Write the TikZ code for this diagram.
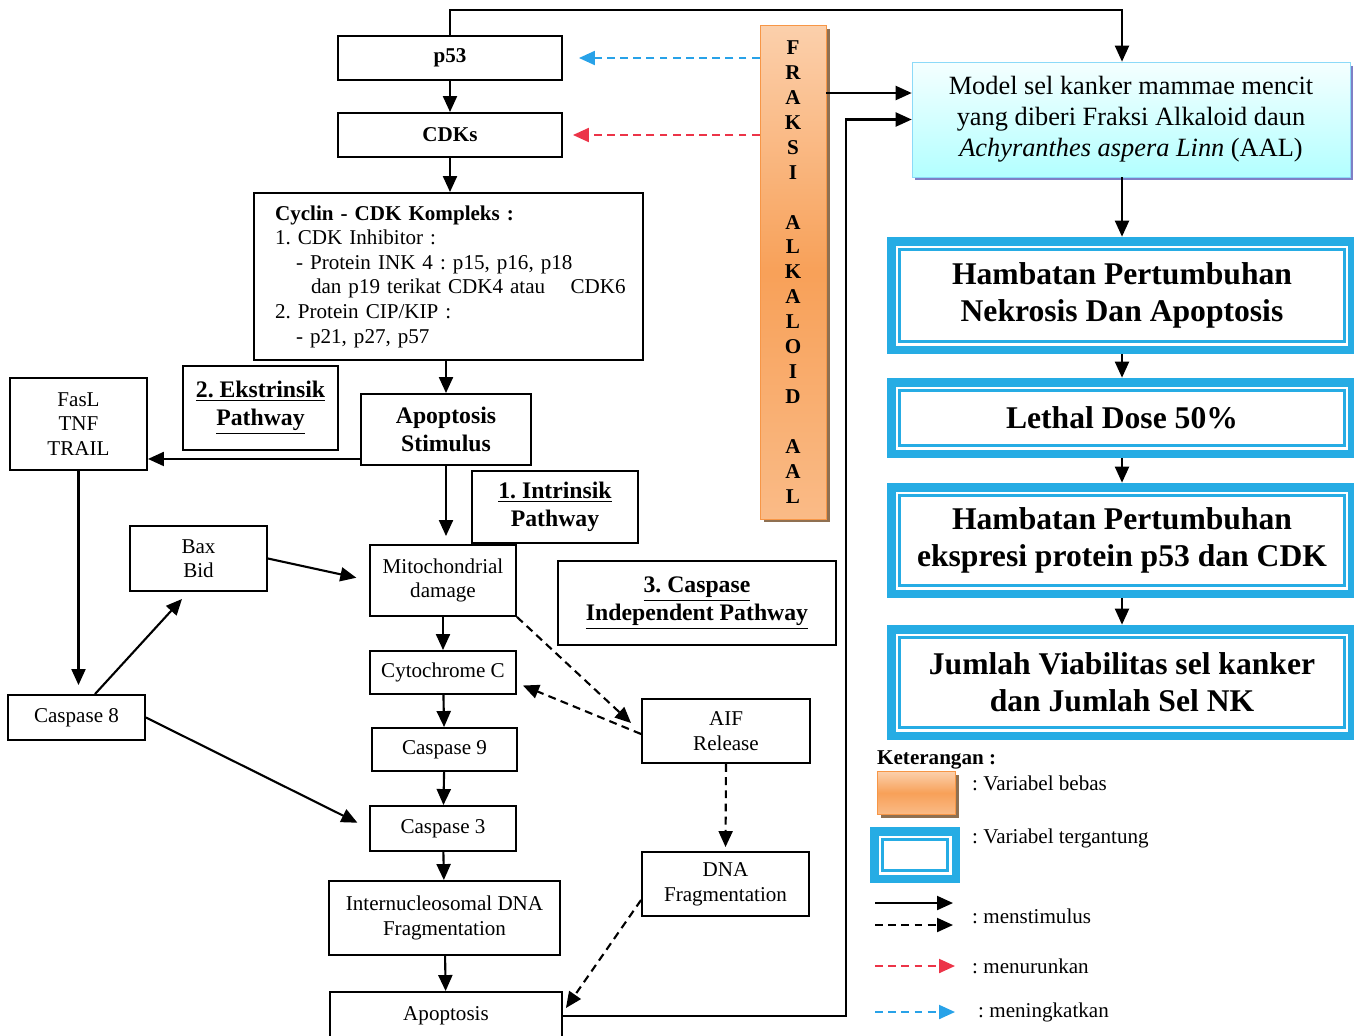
\documentclass[tikz,border=0pt]{standalone}
\usepackage{fontspec}
\setmainfont{Liberation Serif}
\usetikzlibrary{arrows.meta,shadows}

\definecolor{skyb}{RGB}{38,172,228}
\definecolor{orng}{RGB}{247,150,70}
\definecolor{redd}{RGB}{236,52,72}
\definecolor{blued}{RGB}{40,162,232}

\begin{document}
\frenchspacing
\begin{tikzpicture}[x=0.02cm, y=-0.02cm,
    box/.style={draw, line width=1.1pt, inner sep=0pt, align=center, font=\fontsize{12}{14}\selectfont},
    bbox/.style={box, font=\fontsize{12}{14}\selectfont\bfseries},
    lbl/.style={box, font=\fontsize{13.5}{16}\selectfont\bfseries},
    fbar/.style={draw=orng, fill=orng, top color=orng!45!white, bottom color=orng!65!white, middle color=orng!90!white,
        drop shadow={shadow xshift=0.07cm, shadow yshift=-0.07cm, fill=brown!60!black, opacity=0.8}},
    depbox/.style={fill=skyb, inner sep=0pt, align=center, font=\fontsize{18}{21}\selectfont\bfseries,
        path picture={
            \fill[white] ([shift={(0.17cm,-0.17cm)}]path picture bounding box.north west) rectangle ([shift={(-0.17cm,0.17cm)}]path picture bounding box.south east);
            \draw[skyb, line width=1.3pt] ([shift={(0.25cm,-0.25cm)}]path picture bounding box.north west) rectangle ([shift={(-0.25cm,0.25cm)}]path picture bounding box.south east);
        }},
    arr/.style={-{Triangle[length=0.32cm,width=0.28cm]}, line width=1.2pt},
    darr/.style={arr, dash pattern=on 4.5pt off 3pt}
]
\useasboundingbox (0,0) rectangle (1354,1035);

% left column
\node[bbox, minimum width=4.48cm, minimum height=0.88cm] (p53) at (450,58) {p53};
\node[bbox, minimum width=4.48cm, minimum height=0.88cm] (cdks) at (450,135) {CDKs};
\node[box, minimum width=7.78cm, minimum height=3.34cm, inner xsep=0.42cm, text width=6.94cm, align=left] (cyc) at (448.5,276.5)
    {\textbf{Cyclin - CDK Kompleks :}\\
     1. CDK Inhibitor :\\
     \hspace*{0.42cm}- Protein INK 4 : p15, p16, p18\\
     \hspace*{0.72cm}\mbox{dan p19 terikat CDK4 atau\hspace{1.2em}CDK6}\\
     2. Protein CIP/KIP :\\
     \hspace*{0.42cm}- p21, p27, p57};
\node[lbl, minimum width=3.4cm, minimum height=1.42cm] (stim) at (446,429.5) {Apoptosis\\Stimulus};
\node[lbl, minimum width=3.1cm, minimum height=1.68cm] (ekstr) at (260.5,408) {\underline{2. Ekstrinsik}\\\underline{Pathway}};
\node[box, minimum width=2.74cm, minimum height=1.84cm] (fasl) at (78.5,424) {FasL\\TNF\\TRAIL};
\node[lbl, minimum width=3.32cm, minimum height=1.44cm] (intr) at (555,507) {\underline{1. Intrinsik}\\Pathway};
\node[box, minimum width=2.74cm, minimum height=1.3cm] (bax) at (198.5,558.5) {Bax\\Bid};
\node[box, minimum width=2.92cm, minimum height=1.42cm] (mito) at (443,580.5) {Mitochondrial\\damage};
\node[lbl, minimum width=5.56cm, minimum height=1.68cm] (indep) at (697,603) {\underline{3. Caspase}\\\underline{Independent Pathway}};
\node[box, minimum width=2.92cm, minimum height=0.86cm] (cytc) at (443,672.5) {Cytochrome C};
\node[box, minimum width=2.74cm, minimum height=0.9cm] (c8) at (76.5,717.5) {Caspase 8};
\node[box, minimum width=3.36cm, minimum height=1.28cm] (aif) at (726,731) {AIF\\Release};
\node[box, minimum width=2.9cm, minimum height=0.86cm] (c9) at (444.5,749.5) {Caspase 9};
\node[box, minimum width=2.92cm, minimum height=0.9cm] (c3) at (443,828.5) {Caspase 3};
\node[box, minimum width=3.34cm, minimum height=1.28cm] (dnaf) at (725.5,884) {DNA\\Fragmentation};
\node[box, minimum width=4.62cm, minimum height=1.48cm] (inter) at (444.5,918) {Internucleosomal DNA\\Fragmentation};
\node[box, minimum width=4.64cm, minimum height=0.96cm] (apop) at (446,1016) {Apoptosis};

% fraksi bar
\node[fbar, minimum width=1.32cm, minimum height=9.88cm, align=center, font=\fontsize{12}{14.2}\selectfont\bfseries] (fraksi) at (793,272)
    {F\\R\\A\\K\\S\\I\\[14.2pt]A\\L\\K\\A\\L\\O\\I\\D\\[14.2pt]A\\A\\L};

% right column
\node[draw=cyan!45, fill=cyan!10, top color=cyan!4, bottom color=cyan!30, minimum width=8.76cm, minimum height=2.3cm,
    align=center, font=\fontsize{15}{17.6}\selectfont,
    drop shadow={shadow xshift=0.06cm, shadow yshift=-0.07cm, fill=blue!55!black}] (model) at (1131,119.5)
    {Model sel kanker mammae mencit\\yang diberi Fraksi Alkaloid daun\\\textit{Achyranthes aspera Linn} (AAL)};
\node[depbox, minimum width=9.4cm, minimum height=2.34cm] (hnk) at (1122,295.5) {Hambatan Pertumbuhan\\Nekrosis Dan Apoptosis};
\node[depbox, minimum width=9.4cm, minimum height=1.6cm] (ld) at (1122,418) {Lethal Dose 50\%};
\node[depbox, minimum width=9.4cm, minimum height=2.3cm] (hpe) at (1122,540.5) {Hambatan Pertumbuhan\\ekspresi protein p53 dan CDK};
\node[depbox, minimum width=9.4cm, minimum height=2.3cm] (jv) at (1122,682.5) {Jumlah Viabilitas sel kanker\\dan Jumlah Sel NK};

% legend
\node[anchor=west, font=\fontsize{12}{14}\selectfont\bfseries] (ket) at (871,760) {Keterangan :};
\node[fbar, minimum width=1.56cm, minimum height=0.86cm] (lgo) at (916,793) {};
\node[anchor=west, font=\fontsize{12}{14}\selectfont] (lgot) at (966,783) {: Variabel bebas};
\node[depbox, minimum width=1.8cm, minimum height=1.12cm] (lgb) at (915,855) {};
\node[anchor=west, font=\fontsize{12}{14}\selectfont] (lgbt) at (966,838) {: Variabel tergantung};
\node[anchor=west, font=\fontsize{12}{14}\selectfont] (lgs) at (966,916) {: menstimulus};
\node[anchor=west, font=\fontsize{12}{14}\selectfont] (lgr) at (966,966) {: menurunkan};
\node[anchor=west, font=\fontsize{12}{14}\selectfont] (lgi) at (972,1012) {: meningkatkan};
\coordinate (k1) at (875,903); \coordinate (k2) at (953,903);
\coordinate (k3) at (875,925); \coordinate (k4) at (953,925);
\coordinate (k5) at (875,966); \coordinate (k6) at (955,966);
\coordinate (k7) at (875,1012); \coordinate (k8) at (955,1012);
\coordinate (rt) at (846,0);

% main chain
\draw[arr] (p53) -- (cdks);
\draw[arr] (cdks) -- (cyc.north -| cdks.south);
\draw[arr] (cyc.south -| stim.north) -- (stim.north);
\draw[arr, shorten >=0.16cm] (stim.south) -- (stim.south |- mito.north);
\foreach \a/\b in {mito/cytc, cytc/c9, c9/c3, c3/inter, inter/apop}
    \draw[arr] (\a) -- (\b);

% ekstrinsik
\draw[arr] ([yshift=0.14cm]stim.south west) coordinate (s1) -- (s1 -| fasl.east);
\draw[arr, shorten >=0.18cm] (fasl.south) -- (fasl.south |- c8.north);
\draw[arr] ([xshift=0.37cm]c8.north) -- ([xshift=-0.33cm, yshift=-0.14cm]bax.south);
\draw[arr, shorten >=0.26cm] (bax.east) -- (mito.west);
\draw[arr, shorten >=0.26cm] (c8.east) -- (c3.west);

% caspase independent
\draw[darr] (mito.south east) -- ([xshift=-0.2cm, yshift=-0.5cm]aif.north west);
\draw[darr] ([yshift=-0.06cm]aif.west) -- ([xshift=0.12cm, yshift=-0.26cm]cytc.east);
\draw[darr, shorten >=0.08cm] (aif.south) -- (dnaf.north);
\draw[darr] ([yshift=-0.32cm]dnaf.west) -- ([xshift=0.06cm, yshift=0.16cm]apop.east);

% fraksi effects
\draw[darr, blued] (fraksi.west |- p53.east) -- ([xshift=0.32cm]p53.east);
\draw[darr, redd] (fraksi.west |- cdks.east) -- ([xshift=0.2cm]cdks.east);
\draw[arr] ([yshift=0.53cm]model.west -| fraksi.east) -- ([yshift=0.53cm]model.west);
\draw[arr] (apop.east) -| (rt |- model.west) -- (model.west);
\draw[arr] (p53.north) -- (p53.north |- 0,10) -| (model.north -| hnk.north);

% right chain
\draw[arr] (model.south -| hnk.north) -- (hnk.north);
\draw[arr] (hnk) -- (ld);
\draw[arr] (ld) -- (hpe);
\draw[arr] (hpe) -- (jv);

% legend arrows
\draw[arr] (k1) -- (k2);
\draw[darr] (k3) -- (k4);
\draw[darr, redd] (k5) -- (k6);
\draw[darr, blued] (k7) -- (k8);
\end{tikzpicture}
\end{document}
